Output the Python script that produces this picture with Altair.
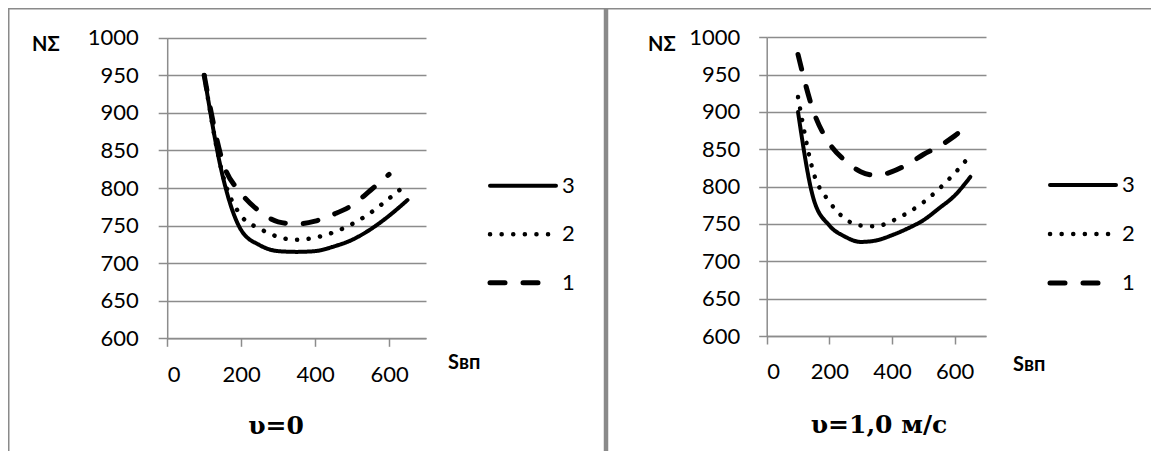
import altair as alt
import pandas as pd

# ---------------- data ----------------
x_vals = [100, 150, 200, 250, 300, 350, 400, 450, 500, 550, 600, 650]
series_names = ["3", "2", "1"]

# panel 1: v = 0
left_s3 = [950, 816, 744, 724, 716, 715, 716, 722, 731, 745, 763, 784]
left_s2 = [950, 818, 763, 746, 735, 731, 734, 741, 752, 767, 786, 806]
left_s1 = [950, 835, 793, 769, 755, 752, 756, 765, 777, 797, 818]

# panel 2: v = 1,0 m/s
right_s3 = [900, 783, 748, 733, 726, 728, 735, 744, 755, 771, 788, 813]
right_s2 = [920, 818, 780, 757, 748, 747, 754, 765, 779, 797, 818, 842]
right_s1 = [977, 900, 858, 835, 820, 815, 820, 830, 843, 854, 868, 885]

x_ticks = [0, 200, 400, 600]
y_ticks = [600, 650, 700, 750, 800, 850, 900, 950, 1000]

y_label = "NΣ"
x_label = "Sвп"
titles = ["υ=0", "υ=1,0 м/с"]


def to_long(s3, s2, s1):
    rows = []
    for name, vals in zip(series_names, [s3, s2, s1]):
        for x, v in zip(x_vals, vals):
            rows.append({"S": x, "N": v, "series": name})
    return pd.DataFrame(rows)


df_left = to_long(left_s3, left_s2, left_s1)
df_right = to_long(right_s3, right_s2, right_s1)

# legend table: a short segment (0..1) per series
df_legend = pd.DataFrame([{"t": t, "series": s} for s in series_names for t in (0, 1)])
df_legend_lbl = pd.DataFrame({"series": series_names})

# ---------------- layout ----------------
W, H = 1143, 443
FONT = "Lato"
SERIF = "DejaVu Serif"
GRID = "#8c8c8c"
BORDER = "#8a8a8a"
LBL = 22

dash_scale = dict(domain=series_names, range=[[1, 0], [0.1, 11.5], [15, 18]])
width_scale = dict(domain=series_names, range=[4, 5, 4])


def panel(df, xrange, yrange, tick, lpad_y, lpad_x):
    xs = alt.Scale(domain=[0, 700], range=xrange, nice=False, zero=False)
    ys = alt.Scale(domain=[600, 1000], range=yrange, nice=False, zero=False)
    return alt.Chart(df).mark_line(
        color="black", interpolate="monotone", strokeCap="round"
    ).encode(
        x=alt.X("S:Q", scale=xs, axis=alt.Axis(
            orient="bottom", offset=yrange[0] - H, values=x_ticks, grid=False,
            format="d", title=None, tickSize=8, labelPadding=lpad_x,
            labelFontSize=LBL, labelFont=FONT, labelColor="black",
            domainColor=GRID, tickColor=GRID, domainWidth=1.5, tickWidth=1.5)),
        y=alt.Y("N:Q", scale=ys, axis=alt.Axis(
            orient="left", offset=-xrange[0], values=y_ticks, grid=True,
            format="d", gridColor=GRID, gridWidth=1.5, title=None, tickSize=tick,
            labelPadding=lpad_y, labelFontSize=LBL, labelFont=FONT,
            labelColor="black", domainColor=GRID, tickColor=GRID,
            domainWidth=1.5, tickWidth=1.5)),
        strokeDash=alt.StrokeDash("series:N", scale=alt.Scale(**dash_scale), legend=None),
        strokeWidth=alt.StrokeWidth("series:N", scale=alt.Scale(**width_scale), legend=None),
    )


def legend(x0, x1, ytop, ybot):
    xs = alt.Scale(domain=[0, 1], range=[x0, x1])
    ys = alt.Scale(domain=series_names, range=[ytop, ybot], padding=0)
    lines = alt.Chart(df_legend).mark_line(color="black", strokeCap="round").encode(
        x=alt.X("t:Q", scale=xs, axis=None),
        y=alt.Y("series:N", scale=ys, axis=None),
        strokeDash=alt.StrokeDash("series:N", scale=alt.Scale(**dash_scale), legend=None),
        strokeWidth=alt.StrokeWidth("series:N", scale=alt.Scale(**width_scale), legend=None),
        detail="series:N",
    )
    labels = alt.Chart(df_legend_lbl).mark_text(
        align="left", baseline="middle", fontSize=LBL, font=FONT, color="black"
    ).encode(
        x=alt.value(x1 + 6),
        y=alt.Y("series:N", scale=ys, axis=None),
        text="series:N",
    )
    return alt.layer(lines, labels)


left = panel(df_left, [159.2, 418], [330.3, 29.7], 9, 20, 18)
right = panel(df_right, [758.7, 978], [328, 29.3], 8, 19, 17)
leg_left = legend(482, 548, 177.7, 274.7)
leg_right = legend(1042, 1108, 177.0, 275.0)

one = pd.DataFrame({"a": [0]})


def txt(text, x, y, size, font, bold=True, align="left"):
    return alt.Chart(one).mark_text(
        text=text, fontSize=size, font=font, fontWeight="bold" if bold else "normal",
        align=align, baseline="middle", color="black"
    ).encode(x=alt.value(x), y=alt.value(y))


def rule(x, y, x2, y2, w):
    return alt.Chart(one).mark_rule(color=BORDER, strokeWidth=w).encode(
        x=alt.value(x), y=alt.value(y), x2=alt.value(x2), y2=alt.value(y2))


texts = [
    txt(y_label, 24, 37, 20, FONT),
    txt(y_label, 640, 37, 20, FONT),
    txt(x_label, 440, 355, 20, FONT),
    txt(x_label, 1005, 357, 20, FONT),
    txt(titles[0], 268, 418, 25, SERIF, align="center"),
    txt(titles[1], 871, 417, 25, SERIF, align="center"),
]
borders = [
    rule(0, 0.75, W, 0.75, 1.5),
    rule(0.75, 0, 0.75, H, 1.5),
    rule(598, 0, 598, H, 4.5),
]

chart = alt.layer(left, right, leg_left, leg_right, *texts, *borders).resolve_scale(
    x="independent", y="independent"
).resolve_axis(
    x="independent", y="independent"
).properties(
    width=W, height=H, autosize=alt.AutoSizeParams(type="none"), padding=0
).configure_view(strokeWidth=0).configure(font=FONT)

chart.save("out.html", embed_options={"renderer": "svg", "actions": False})
